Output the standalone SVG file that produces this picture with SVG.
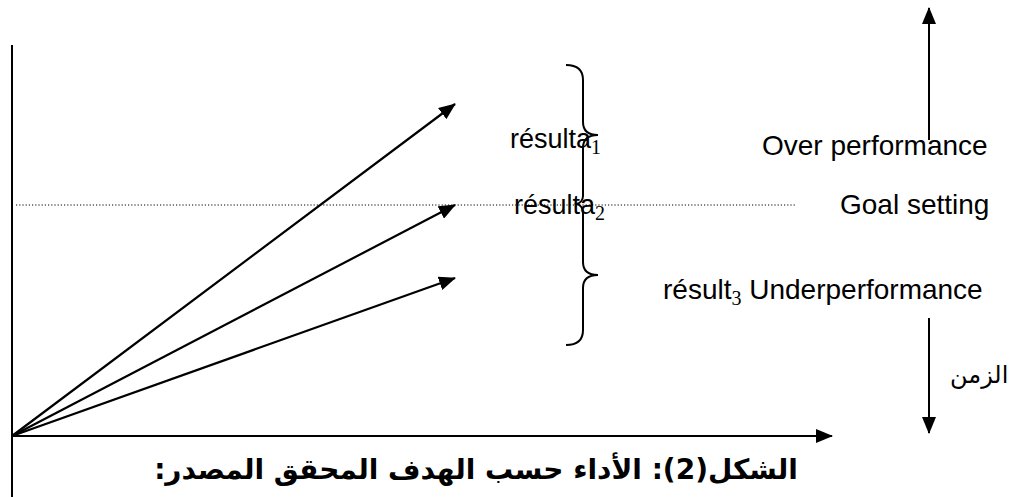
<svg xmlns="http://www.w3.org/2000/svg" width="1013" height="497" viewBox="0 0 1013 497">
<style>
.ax{stroke:#000;stroke-width:2;fill:none}
.ar{stroke:#000;stroke-width:2.2;fill:none}
.dot{stroke:#000;stroke-width:1;stroke-dasharray:1.2 2;fill:none}
.br{stroke:#000;stroke-width:2;fill:none}
.lbl{font-family:"Liberation Sans",Arial,sans-serif;font-size:28px;fill:#000}
.sub{font-family:"Liberation Serif","Times New Roman",serif;font-size:20px}
.ar-txt{font-family:"DejaVu Sans",sans-serif;fill:#000}
.cap{font-family:"DejaVu Sans",sans-serif;font-size:28px;font-weight:bold;fill:#000}
</style>
<defs>
<marker id="ah" markerUnits="userSpaceOnUse" markerWidth="18" markerHeight="14" refX="16" refY="7" orient="auto">
<path d="M0,0 L17,7 L0,14 z" fill="#000"/>
</marker>
</defs>
<rect width="1013" height="497" fill="#fff"/>
<g id="connectors">
<line class="ax" x1="12" y1="45" x2="12" y2="497"/>
<line class="ax" x1="12" y1="436" x2="832" y2="436" marker-end="url(#ah)"/>
<line class="dot" x1="16" y1="205" x2="795" y2="205"/>
<line class="ar" x1="12" y1="436" x2="455" y2="104" marker-end="url(#ah)"/>
<line class="ar" x1="12" y1="436" x2="455" y2="205" marker-end="url(#ah)"/>
<line class="ar" x1="12" y1="436" x2="455" y2="278" marker-end="url(#ah)"/>
<line class="ax" x1="929" y1="140" x2="929" y2="8" marker-end="url(#ah)"/>
<line class="ax" x1="929" y1="318" x2="929" y2="433" marker-end="url(#ah)"/>
</g>
<g id="brace">
<path class="br" d="M566,65 C578,65 583,70 583,80 L583,122 C583,130 588,135 598,135 C588,135 583,140 583,148 L583,196 C583,200 580,203 577,204 C580,205 583,208 583,212 L583,262 C583,270 588,275 598,275 C588,275 583,280 583,288 L583,330 C583,340 578,345 566,345"/>
</g>
<g id="result1"><text class="lbl" x="510" y="148" style="font-size:27px">résulta<tspan class="sub" dy="6">1</tspan></text></g>
<g id="result2"><text class="lbl" x="514" y="214" style="font-size:27px">résulta<tspan class="sub" dy="6">2</tspan></text></g>
<g id="over"><text class="lbl" x="762" y="155">Over performance</text></g>
<g id="goal"><text class="lbl" x="840" y="214">Goal setting</text></g>
<g id="under"><text class="lbl" x="663" y="299">résult<tspan class="sub" dy="6">3</tspan><tspan dy="-6"> Underperformance</tspan></text></g>
<g id="time"><text class="ar-txt" x="950" y="383" font-size="24">الزمن</text></g>
<g id="caption"><text class="cap" x="476" y="479" text-anchor="middle" direction="rtl">الشكل(2): الأداء حسب الهدف المحقق المصدر:</text></g>
</svg>
